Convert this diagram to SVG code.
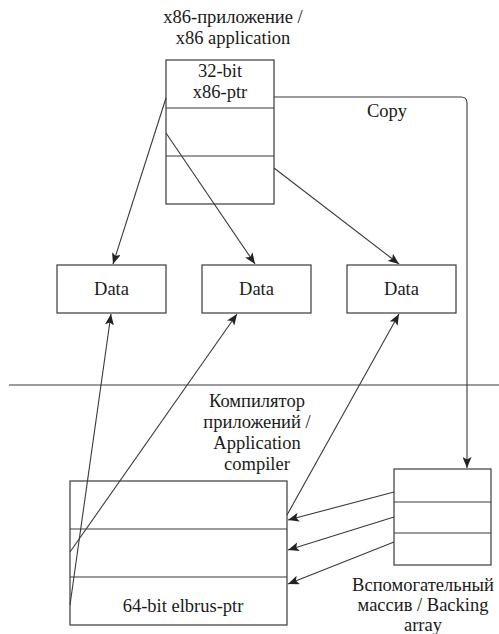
<svg xmlns="http://www.w3.org/2000/svg" width="499" height="634" viewBox="0 0 499 634">
<style>
.box{fill:#fff;stroke:#3a3a3a;stroke-width:1.2}
.ln{fill:none;stroke:#3a3a3a;stroke-width:1.1}
.t{font-family:"Liberation Serif","Times New Roman",serif;font-size:18.5px;fill:#1a1a1a;text-anchor:middle}
</style>
<defs>
<marker id="ah" viewBox="0 0 11 9" refX="11" refY="4.5" markerWidth="11" markerHeight="9" markerUnits="userSpaceOnUse" orient="auto">
<path d="M0,0 L11,4.5 L0,9 L2.5,4.5 Z" fill="#222"/>
</marker>
</defs>
<rect width="499" height="634" fill="#fff"/>
<line class="ln" x1="9" y1="385" x2="499" y2="385"/>
<g id="x86app">
<text class="t" x="233" y="23">x86-приложение /</text>
<text class="t" x="233" y="44">x86 application</text>
<rect class="box" x="166" y="60" width="108" height="144"/>
<line class="ln" x1="166" y1="108" x2="274" y2="108"/>
<line class="ln" x1="166" y1="156" x2="274" y2="156"/>
<text class="t" x="220" y="77">32-bit</text>
<text class="t" x="220" y="98">x86-ptr</text>
</g>
<g id="data1"><rect class="box" x="57" y="265" width="109" height="48"/><text class="t" x="111.5" y="295">Data</text></g>
<g id="data2"><rect class="box" x="202" y="265" width="109" height="48"/><text class="t" x="256.5" y="295">Data</text></g>
<g id="data3"><rect class="box" x="347" y="265" width="109" height="48"/><text class="t" x="401.5" y="295">Data</text></g>
<g id="compiler">
<text class="t" x="257" y="407">Компилятор</text>
<text class="t" x="257" y="428">приложений /</text>
<text class="t" x="257" y="449">Application</text>
<text class="t" x="257" y="470">compiler</text>
</g>
<g id="elbrus">
<rect class="box" x="70" y="481" width="217" height="144"/>
<line class="ln" x1="70" y1="529" x2="287" y2="529"/>
<line class="ln" x1="70" y1="577" x2="287" y2="577"/>
<text class="t" x="183" y="612">64-bit elbrus-ptr</text>
</g>
<g id="backing">
<rect class="box" x="394" y="469" width="97" height="96"/>
<line class="ln" x1="394" y1="502" x2="491" y2="502"/>
<line class="ln" x1="394" y1="533" x2="491" y2="533"/>
<text class="t" x="423" y="591">Вспомогательный</text>
<text class="t" x="423" y="611">массив / Backing</text>
<text class="t" x="423" y="631">array</text>
</g>
<g id="connectors">
<line class="ln" x1="166" y1="98" x2="113" y2="264" marker-end="url(#ah)"/>
<line class="ln" x1="166" y1="133" x2="255" y2="264" marker-end="url(#ah)"/>
<line class="ln" x1="274" y1="168" x2="399" y2="264" marker-end="url(#ah)"/>
<path class="ln" d="M274,97 H461 Q467,97 467,103 V468" marker-end="url(#ah)"/>
<text class="t" x="387" y="117">Copy</text>
<line class="ln" x1="70" y1="605" x2="111" y2="314" marker-end="url(#ah)"/>
<line class="ln" x1="70" y1="552" x2="237" y2="314" marker-end="url(#ah)"/>
<line class="ln" x1="287" y1="515" x2="399" y2="314" marker-end="url(#ah)"/>
<line class="ln" x1="394" y1="492" x2="288" y2="520" marker-end="url(#ah)"/>
<line class="ln" x1="394" y1="517" x2="288" y2="550" marker-end="url(#ah)"/>
<line class="ln" x1="394" y1="542" x2="288" y2="584" marker-end="url(#ah)"/>
</g>
</svg>
